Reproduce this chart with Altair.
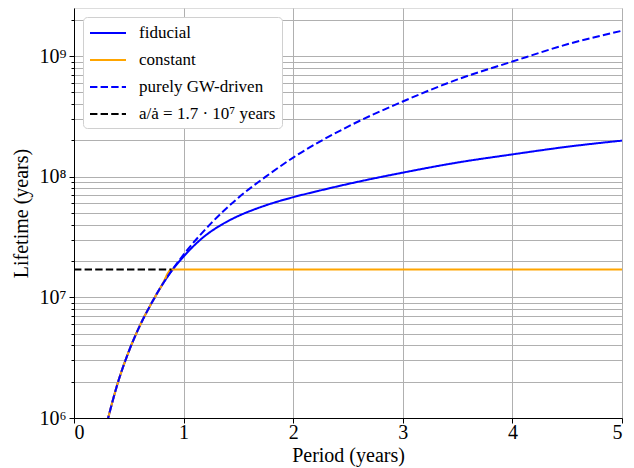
import altair as alt
import pandas as pd

# ---- data ----
fid_p = [0.30, 0.40, 0.50, 0.60, 0.70, 0.80, 0.90, 1.00, 1.18, 1.34, 1.49, 1.64, 1.79, 2.00, 2.25, 2.50, 3.00, 3.50, 4.00, 4.50, 5.00]
fid_t = [9.1e5, 1.96e6, 3.56e6, 5.8e6, 8.7e6, 1.25e7, 1.70e7, 2.18e7, 3.15e7, 3.97e7, 4.68e7, 5.33e7, 5.95e7, 6.76e7, 7.7e7, 8.7e7, 1.08e8, 1.31e8, 1.53e8, 1.77e8, 1.99e8]

const_p = [0.30, 0.40, 0.50, 0.60, 0.70, 0.80, 0.89, 5.00]
const_t = [9.1e5, 1.96e6, 3.56e6, 5.8e6, 8.7e6, 1.25e7, 1.70e7, 1.70e7]

gw_p = [0.30, 0.40, 0.50, 0.60, 0.70, 0.80, 0.90, 1.00, 1.25, 1.50, 1.75, 2.00, 2.50, 3.00, 3.50, 4.00, 4.50, 5.00]
gw_t = [9.1e5, 1.96e6, 3.56e6, 5.8e6, 8.7e6, 1.25e7, 1.71e7, 2.26e7, 4.1e7, 6.7e7, 1.0e8, 1.44e8, 2.6e8, 4.2e8, 6.4e8, 9.0e8, 1.25e9, 1.62e9]

ref_p = [0.0, 0.89]
ref_t = [1.7e7, 1.7e7]

names = ["fiducial", "constant", "purely GW-driven", "a/ȧ = 1.7 · 10⁷ years"]
colors = ["#0000ff", "#ffa500", "#0000ff", "#000000"]
dashes = [[1, 0], [1, 0], [7.4, 3.2], [7.4, 3.2]]

y_ticks = [1e6, 2e6, 3e6, 4e6, 5e6, 6e6, 7e6, 8e6, 9e6,
           1e7, 2e7, 3e7, 4e7, 5e7, 6e7, 7e7, 8e7, 9e7,
           1e8, 2e8, 3e8, 4e8, 5e8, 6e8, 7e8, 8e8, 9e8,
           1e9, 2e9]

frames = []
for name, ps, ts in zip(names, [fid_p, const_p, gw_p, ref_p], [fid_t, const_t, gw_t, ref_t]):
    frames.append(pd.DataFrame({"period": ps, "lifetime": ts, "series": name}))
df = pd.concat(frames, ignore_index=True)

FONT = "Liberation Serif"

x_enc = alt.X("period:Q",
              scale=alt.Scale(domain=[0, 5], nice=False),
              axis=alt.Axis(title="Period (years)", values=[0, 1, 2, 3, 4, 5],
                            grid=True, gridColor="#b0b0b0", gridWidth=1,
                            tickSize=5, tickColor="black", domainColor="black",
                            labelFont=FONT, labelFontSize=20, labelColor="black",
                            titleFont=FONT, titleFontSize=20, titleFontWeight="normal",
                            titleColor="black", labelPadding=-1, titlePadding=3,
                            format="d"))

label_expr = ("datum.value == 1e6 ? '10⁶' : datum.value == 1e7 ? '10⁷' : "
              "datum.value == 1e8 ? '10⁸' : datum.value == 1e9 ? '10⁹' : ''")
major_test = "datum.value == 1e6 || datum.value == 1e7 || datum.value == 1e8 || datum.value == 1e9"

y_enc = alt.Y("lifetime:Q",
              scale=alt.Scale(type="log", domain=[1e6, 2.5e9], nice=False),
              axis=alt.Axis(title="Lifetime (years)", values=y_ticks, labelExpr=label_expr,
                            grid=True, gridColor="#b0b0b0", gridWidth=1,
                            tickSize={"condition": {"test": major_test, "value": 5}, "value": 3},
                            tickColor="black", domainColor="black",
                            labelFont=FONT, labelFontSize=20, labelColor="black",
                            titleFont=FONT, titleFontSize=20, titleFontWeight="normal",
                            titleColor="black", labelPadding=3, titlePadding=8))

color_enc = alt.Color("series:N",
                      scale=alt.Scale(domain=names, range=colors),
                      legend=alt.Legend(title=None, orient="top-left", offset=9,
                                        symbolType="M-1,0H3", symbolSize=324,
                                        symbolStrokeWidth=2, labelFont=FONT,
                                        labelFontSize=17, labelColor="black",
                                        labelOffset=30, rowPadding=9,
                                        fillColor="white", strokeColor="#d0d0d0",
                                        cornerRadius=4, padding=6,
                                        labelLimit=300))
dash_enc = alt.StrokeDash("series:N",
                          scale=alt.Scale(domain=names, range=dashes),
                          legend=alt.Legend(title=None, orient="top-left"))

base = alt.Chart(df)
layers = []
for name in names:
    layers.append(
        base.transform_filter(alt.datum.series == name)
        .mark_line(strokeWidth=2, clip=True, interpolate="monotone")
        .encode(x=x_enc, y=y_enc, color=color_enc, strokeDash=dash_enc,
                order="period:Q")
    )

chart = alt.layer(*layers).properties(
    width=548, height=410,
    autosize=alt.AutoSizeParams(type="none"),
    padding={"left": 74, "top": 8, "right": 12, "bottom": 50},
).configure_view(stroke="black", strokeWidth=1).configure(background="white")

chart.save("out.html", embed_options={"renderer": "svg", "actions": False})
